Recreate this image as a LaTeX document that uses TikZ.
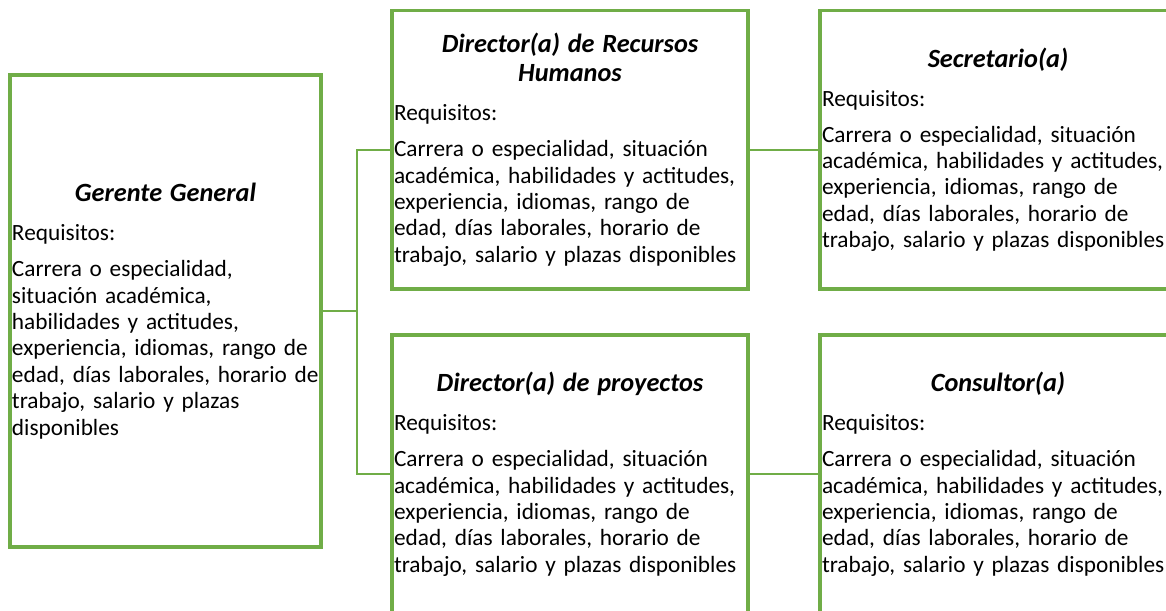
\documentclass[tikz,border=0pt]{standalone}
\usepackage{fontspec}
\setmainfont{Carlito}
\definecolor{verde}{HTML}{70AD47}
\tikzset{
  puesto/.style={draw=verde, line width=3.8pt, inner xsep=2pt, inner ysep=0pt,
    align=left, font=\fontsize{23.3}{26.4}\selectfont},
  link/.style={draw=verde, line width=2.2pt},
}
\newcommand{\cargo}[1]{{\centering\fontsize{26.3}{29}\selectfont\bfseries\itshape #1\par}%
  \vspace{12.6pt}Requisitos:\par\vspace{9.6pt}}
\begin{document}
\begin{tikzpicture}[x=1pt,y=-1pt]
  \path[use as bounding box, clip] (0,0) rectangle (1166,610);
  % puestos
  \node[puesto, minimum width=311, minimum height=472, text width=307] (ger) at (165.5,311)
    {\cargo{Gerente General}\parskip=0pt
     Carrera o especialidad,\\
     situación académica,\\
     habilidades y actitudes,\\
     experiencia, idiomas, rango de\\
     edad, días laborales, horario de\\
     trabajo, salario y plazas\\
     disponibles};
  \node[puesto, minimum width=356, minimum height=278.5, text width=352] (rrhh) at (570,149.75)
    {\cargo{Director(a) de Recursos\\Humanos}
     Carrera o especialidad, situación\\
     académica, habilidades y actitudes,\\
     experiencia, idiomas, rango de\\
     edad, días laborales, horario de\\
     trabajo, salario y plazas disponibles};
  \node[puesto, minimum width=356, minimum height=278.5, text width=352] (secr) at (998,149.75)
    {\cargo{Secretario(a)}
     Carrera o especialidad, situación\\
     académica, habilidades y actitudes,\\
     experiencia, idiomas, rango de\\
     edad, días laborales, horario de\\
     trabajo, salario y plazas disponibles};
  \node[puesto, minimum width=356, minimum height=278.5, text width=352] (proy) at (570,474.25)
    {\cargo{Director(a) de proyectos}
     Carrera o especialidad, situación\\
     académica, habilidades y actitudes,\\
     experiencia, idiomas, rango de\\
     edad, días laborales, horario de\\
     trabajo, salario y plazas disponibles};
  \node[puesto, minimum width=356, minimum height=278.5, text width=352] (cons) at (998,474.25)
    {\cargo{Consultor(a)}
     Carrera o especialidad, situación\\
     académica, habilidades y actitudes,\\
     experiencia, idiomas, rango de\\
     edad, días laborales, horario de\\
     trabajo, salario y plazas disponibles};
  % conectores
  \coordinate (spine) at (357,0);
  \draw[link] (ger.east) -- (spine |- ger.east);
  \draw[link] (rrhh.west) -| (spine |- ger.east) |- (proy.west);
  \draw[link] (rrhh) -- (secr);
  \draw[link] (proy) -- (cons);
\end{tikzpicture}
\end{document}
